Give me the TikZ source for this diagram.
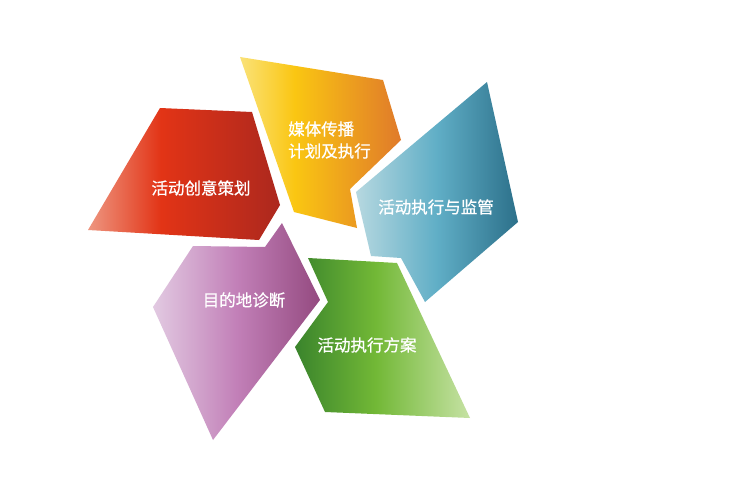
\documentclass[tikz,border=0pt]{standalone}
\usepackage{fontspec}
\newfontfamily\cjk{Noto Sans CJK SC}[FakeBold=0.7]
\usetikzlibrary{calc}
\definecolor{redA}{RGB}{238,150,128}
\definecolor{redB}{RGB}{226,52,22}
\definecolor{redC}{RGB}{172,40,30}
\definecolor{yelA}{RGB}{250,226,120}
\definecolor{yelB}{RGB}{250,198,18}
\definecolor{yelC}{RGB}{224,122,42}
\definecolor{bluA}{RGB}{182,216,224}
\definecolor{bluB}{RGB}{96,174,198}
\definecolor{bluC}{RGB}{44,112,138}
\definecolor{grnA}{RGB}{58,132,44}
\definecolor{grnB}{RGB}{114,184,54}
\definecolor{grnC}{RGB}{198,226,164}
\definecolor{purA}{RGB}{226,202,226}
\definecolor{purB}{RGB}{194,128,184}
\definecolor{purC}{RGB}{148,74,128}
\pgfdeclarehorizontalshading{redfade}{100bp}{color(0bp)=(redA); color(25bp)=(redA); color(44bp)=(redB); color(75bp)=(redC); color(100bp)=(redC)}
\pgfdeclarehorizontalshading{yelfade}{100bp}{color(0bp)=(yelA); color(25bp)=(yelA); color(42bp)=(yelB); color(75bp)=(yelC); color(100bp)=(yelC)}
\pgfdeclarehorizontalshading{blufade}{100bp}{color(0bp)=(bluA); color(25bp)=(bluA); color(50bp)=(bluB); color(75bp)=(bluC); color(100bp)=(bluC)}
\pgfdeclarehorizontalshading{grnfade}{100bp}{color(0bp)=(grnA); color(25bp)=(grnA); color(48bp)=(grnB); color(75bp)=(grnC); color(100bp)=(grnC)}
\pgfdeclarehorizontalshading{purfade}{100bp}{color(0bp)=(purA); color(25bp)=(purA); color(50bp)=(purB); color(75bp)=(purC); color(100bp)=(purC)}
\tikzset{label text/.style={text=white, font=\cjk\fontsize{16.5}{22}\selectfont, inner sep=0pt}}

\begin{document}
\begin{tikzpicture}[x=1pt, y=-1pt]
		%%%%% START %%%%%
		\useasboundingbox[fill=white] (0, 0) rectangle (744, 495);
		
		\shade[shading=redfade] (160, 108) -- (252, 112) -- (280, 205) -- (259, 240) -- (88, 230) -- cycle;
		\shade[shading=yelfade] (240, 57) -- (383, 80) -- (401, 140) -- (350, 189) -- (357, 228) -- (294, 212) -- cycle;
		\shade[shading=blufade] (487, 82) -- (518, 222) -- (425, 302) -- (401, 258) -- (371, 256) -- (356, 192) -- cycle;
		\shade[shading=grnfade] (308, 258) -- (397, 263) -- (470, 418) -- (325, 412) -- (295, 347) -- (328, 302) -- cycle;
		\shade[shading=purfade] (193, 246) -- (265, 247) -- (282, 223) -- (320, 300) -- (213, 440) -- (153, 307) -- cycle;
		
		\node[label text] (plan) at (201, 188) {活动创意策划};
		\node[label text, align=left, anchor=west] (media) at (288, 140) {媒体传播\\计划及执行};
		\node[label text] (monitor) at (436, 207) {活动执行与监管};
		\node[label text] (survey) at (244, 300) {目的地诊断};
		\node[label text] (scheme) at (367, 345) {活动执行方案};
		%%%%% END %%%%%
	\end{tikzpicture}
\end{document}
